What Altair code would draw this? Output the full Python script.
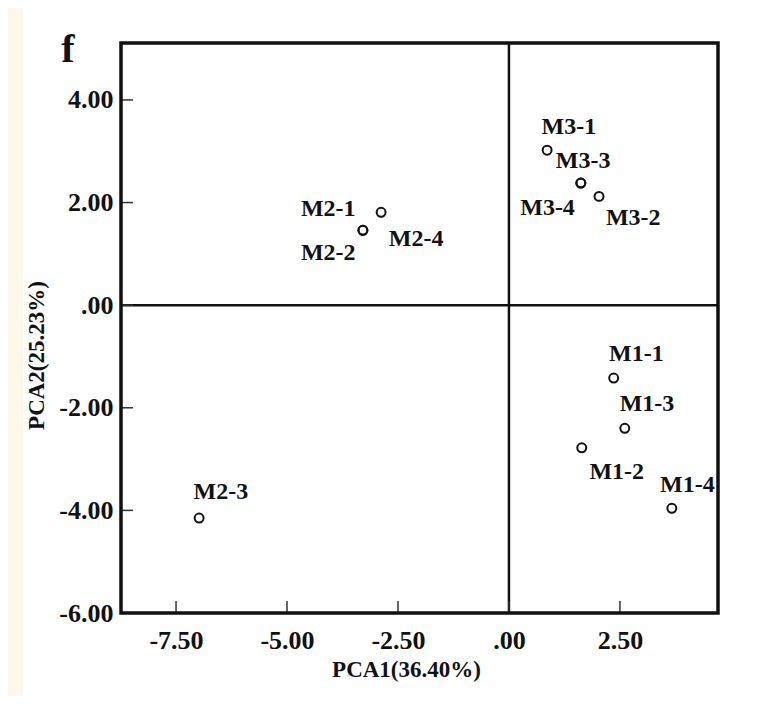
import altair as alt
import pandas as pd

# ---- data ----
samples = ["M1-1", "M1-2", "M1-3", "M1-4",
           "M2-1", "M2-2", "M2-3", "M2-4",
           "M3-1", "M3-2", "M3-3", "M3-4"]
pca1 = [2.36, 1.64, 2.61, 3.67,
        -3.29, -3.29, -6.98, -2.88,
        0.86, 2.03, 1.62, 1.62]
pca2 = [-1.42, -2.78, -2.40, -3.96,
        1.46, 1.46, -4.15, 1.81,
        3.02, 2.12, 2.38, 2.38]
# label anchor positions (data units)
label_x = [2.87, 2.43, 3.11, 4.02,
           -4.07, -4.07, -6.49, -2.09,
           1.35, 2.80, 1.67, 0.87]
label_y = [-0.96, -3.26, -1.93, -3.51,
           1.87, 1.01, -3.65, 1.29,
           3.47, 1.70, 2.81, 1.90]

x_ticks = [-7.5, -5.0, -2.5, 0.0, 2.5]
y_ticks = [4.0, 2.0, 0.0, -2.0, -4.0, -6.0]
x_domain = [-8.74, 4.71]
y_domain = [-6.0, 5.11]
panel_letter = ["f"]

W, H = 597, 570
FONT = "Liberation Serif"
INK = "#111111"

df = pd.DataFrame({"sample": samples, "pc1": pca1, "pc2": pca2,
                   "lx": label_x, "ly": label_y})
xt = pd.DataFrame({"v": x_ticks})
yt = pd.DataFrame({"v": y_ticks})
zero = pd.DataFrame({"v": [0.0]})
one = pd.DataFrame({"t": panel_letter})

fmt = ("datum.value == 0 ? '.00' : "
       "(datum.value < 0 ? '-' : '') + format(abs(datum.value), '.2f')")

xs = alt.Scale(domain=x_domain, nice=False, zero=False)
ys = alt.Scale(domain=y_domain, nice=False, zero=False)

white = alt.Chart(one).mark_rect(color="white").encode(
    x=alt.value(-98), x2=alt.value(641), y=alt.value(-38), y2=alt.value(661))

frame = alt.Chart(one).mark_rect(filled=False, stroke=INK, strokeWidth=3.5).encode(
    x=alt.value(0), x2=alt.value(W), y=alt.value(0), y2=alt.value(H))

letter = alt.Chart(one).mark_text(font=FONT, fontWeight="bold", fontSize=40,
                                  color=INK, align="center",
                                  baseline="alphabetic").encode(
    x=alt.value(-53), y=alt.value(19), text="t:N")

base = alt.Chart(df)

pts = base.mark_point(shape="circle", filled=False, stroke=INK,
                      strokeWidth=2, size=80, opacity=1).encode(
    x=alt.X("pc1:Q", scale=xs,
            axis=alt.Axis(title="PCA1(36.40%)", values=x_ticks, labelExpr=fmt,
                          ticks=False, domain=False, grid=False, zindex=2,
                          labelFont=FONT, labelFontWeight="bold", labelFontSize=26,
                          labelColor=INK, labelPadding=14,
                          titleFont=FONT, titleFontWeight="bold", titleFontSize=23,
                          titleColor=INK, titleX=285, titleY=56,
                          titleBaseline="middle", titleAlign="center")),
    y=alt.Y("pc2:Q", scale=ys,
            axis=alt.Axis(title="PCA2(25.23%)", values=y_ticks, labelExpr=fmt,
                          ticks=False, domain=False, grid=False, zindex=2,
                          labelFont=FONT, labelFontWeight="bold", labelFontSize=26,
                          labelColor=INK, labelPadding=8,
                          titleFont=FONT, titleFontWeight="bold", titleFontSize=23,
                          titleColor=INK, titleX=-85, titleY=312,
                          titleBaseline="middle", titleAngle=-90, titleAlign="center")),
)

labels = base.mark_text(font=FONT, fontWeight="bold", fontSize=24, color=INK,
                        align="center", baseline="middle").encode(
    x=alt.X("lx:Q", scale=xs), y=alt.Y("ly:Q", scale=ys), text="sample:N")

vline = alt.Chart(zero).mark_rule(color=INK, strokeWidth=2.5).encode(
    x=alt.X("v:Q", scale=xs))
hline = alt.Chart(zero).mark_rule(color=INK, strokeWidth=2.5).encode(
    y=alt.Y("v:Q", scale=ys))

xtick = alt.Chart(xt).mark_rule(color="#333333", strokeWidth=1.5).encode(
    x=alt.X("v:Q", scale=xs), y=alt.value(H), y2=alt.value(H - 12))
ytick = alt.Chart(yt).mark_rule(color="#333333", strokeWidth=1.5).encode(
    y=alt.Y("v:Q", scale=ys), x=alt.value(0), x2=alt.value(12))

chart = alt.layer(white, vline, hline, xtick, ytick, frame, pts, labels, letter).properties(
    width=W, height=H,
    autosize=alt.AutoSizeParams(type="none"),
    padding={"left": 113, "top": 35, "right": 40, "bottom": 83},
).configure(background="#fef8ea").configure_view(strokeWidth=0)

chart.save("out.html", embed_options={"renderer": "svg", "actions": False})
